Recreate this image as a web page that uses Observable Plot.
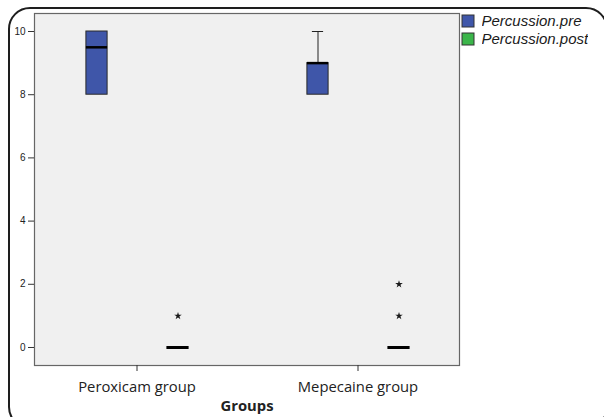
<!DOCTYPE html>
<html>
<head>
<meta charset="utf-8">
<script src="https://cdn.jsdelivr.net/npm/d3@7"></script>
<script src="https://cdn.jsdelivr.net/npm/@observablehq/plot@0.6"></script>
<style>
  html, body { margin: 0; padding: 0; background: #fff; overflow: hidden; }
  #wrap { position: relative; width: 604px; height: 417px; overflow: hidden; }
  #border { position: absolute; left: 8px; top: 7px; width: 600px; height: 422px;
            border: 2px solid #1e1e1e; border-radius: 22px; box-sizing: border-box; }
  #chart { position: absolute; left: 0; top: 0; }
  #legend { position: absolute; left: 462px; top: 12px; }
  #legend div, #legend span { font-family: "Liberation Sans", Arial, sans-serif; font-style: italic;
            font-size: 15px; color: #1a1a1a; }
  #legend > div > div { margin-bottom: 0px; line-height: 17px; }
  #legend svg rect { stroke: #333; stroke-width: 1px; }
  g[aria-label="x-axis label"] text { font-weight: bold; }
</style>
</head>
<body>
<div id="wrap">
  <div id="border"></div>
  <div id="chart"></div>
  <div id="legend"></div>
</div>
<script>
// ---- data ----
const groups = ["Peroxicam group", "Mepecaine group"];
const series = ["Percussion.pre", "Percussion.post"];
const colors = ["#3f56a9", "#3bb54a"];
const yTicks = [0, 2, 4, 6, 8, 10];

// box statistics per group (order follows `groups`)
const preLow    = [8, 8];
const preQ1     = [8, 8];
const preMedian = [9.5, 9];
const preQ3     = [10, 9];
const preHigh   = [10, 10];

const postLow    = [0, 0];
const postQ1     = [0, 0];
const postMedian = [0, 0];
const postQ3     = [0, 0];
const postHigh   = [0, 0];

// extreme outliers (*) for Percussion.post
const outlierGroups = ["Peroxicam group", "Mepecaine group", "Mepecaine group"];
const outlierValues = [1, 1, 2];

// ---- tables ----
const pre = groups.map((g, i) => ({group: g, series: series[0], low: preLow[i], q1: preQ1[i], median: preMedian[i], q3: preQ3[i], high: preHigh[i]}));
const post = groups.map((g, i) => ({group: g, series: series[1], low: postLow[i], q1: postQ1[i], median: postMedian[i], q3: postQ3[i], high: postHigh[i]}));
const outliers = outlierGroups.map((g, i) => ({group: g, value: outlierValues[i]}));

const bandwidth = 176.8;
const boxW = 21, capW = 11;
const ins = (w) => (bandwidth - w) / 2;

function boxMarks(data, dx, fill, medW, medStroke) {
  return [
    Plot.ruleX(data.filter(d => d.high > d.q3), {x: "group", y1: "q3", y2: "high", dx, stroke: "#222", strokeWidth: 1}),
    Plot.ruleX(data.filter(d => d.low < d.q1), {x: "group", y1: "low", y2: "q1", dx, stroke: "#222", strokeWidth: 1}),
    Plot.tickY(data.filter(d => d.high > d.q3), {x: "group", y: "high", dx, stroke: "#222", strokeWidth: 1, insetLeft: ins(capW), insetRight: ins(capW)}),
    Plot.tickY(data.filter(d => d.low < d.q1), {x: "group", y: "low", dx, stroke: "#222", strokeWidth: 1, insetLeft: ins(capW), insetRight: ins(capW)}),
    Plot.barY(data.filter(d => d.q3 > d.q1), {x: "group", y1: "q1", y2: "q3", dx, fill, stroke: "#2a2a2a", strokeWidth: 1, insetLeft: ins(boxW), insetRight: ins(boxW)}),
    Plot.tickY(data, {x: "group", y: "median", dx, stroke: "#000", strokeWidth: medStroke, insetLeft: ins(medW), insetRight: ins(medW)})
  ];
}

const chart = Plot.plot({
  width: 604,
  height: 417,
  marginLeft: 34,
  marginRight: 145,
  marginTop: 13,
  marginBottom: 52,
  style: {background: "transparent", fontFamily: "'Liberation Sans', Arial, sans-serif", color: "#222"},
  x: {type: "band", domain: groups, paddingInner: 0.2, paddingOuter: 0.0615},
  y: {domain: [-0.57, 10.57]},
  marks: [
    Plot.frame({fill: "#f0f0f0", stroke: "#666", strokeWidth: 1.2}),
    ...boxMarks(pre, -40, colors[0], boxW, 2.5),
    ...boxMarks(post, 41, colors[1], 22, 3),
    Plot.dot(outliers, {x: "group", y: "value", dx: 41, symbol: "star", r: 2.4, fill: "#1a1a1a", stroke: "none"}),
    Plot.axisY({ticks: yTicks, tickSize: 6, tickPadding: 3, fontSize: 10, label: null, stroke: "#333"}),
    Plot.axisX({tickSize: 6, tickPadding: 10, fontSize: 14.8, fontFamily: "'Open Sans', sans-serif",
                label: "Groups", labelAnchor: "center", labelArrow: "none", labelOffset: 45, stroke: "#333"})
  ]
});
document.getElementById("chart").appendChild(chart);

const legend = Plot.legend({
  color: {type: "ordinal", domain: series, range: colors},
  legend: "swatches",
  columns: 1,
  swatchSize: 12,
  swatchWidth: 12,
  swatchHeight: 12
});
document.getElementById("legend").appendChild(legend);
</script>
</body>
</html>
